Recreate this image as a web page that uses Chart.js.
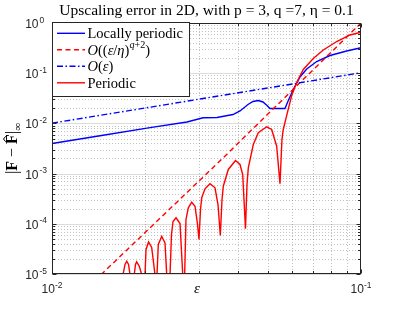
<!DOCTYPE html>
<html>
<head>
<meta charset="utf-8">
<script src="https://cdn.jsdelivr.net/npm/chart.js@4.4.1/dist/chart.umd.min.js"></script>
<style>
html, body { margin: 0; padding: 0; background: #fff; }
#wrap { width: 399px; height: 310px; }
</style>
</head>
<body>
<div id="wrap"><canvas id="myChart" width="399" height="310"></canvas></div>
<script>
// values (log-log)
var epsLocal = [0.01, 0.0143, 0.02076, 0.02734, 0.03082, 0.0342, 0.03852, 0.04059, 0.04308, 0.04472,
    0.04652, 0.04818, 0.04964, 0.05076, 0.05675, 0.05817, 0.06038, 0.06207, 0.06347, 0.06672,
    0.07188, 0.07937, 0.08989, 0.1];
var errLocal = [0.00398, 0.00569, 0.00825, 0.01066, 0.01293, 0.0131, 0.01504, 0.01766, 0.02379, 0.02731,
    0.02859, 0.02669, 0.02273, 0.0198, 0.0198, 0.02859, 0.04734, 0.06528, 0.084, 0.1213,
    0.171, 0.2252, 0.2768, 0.3206];

var epsPeriodic = [0.01635, 0.01698, 0.01723, 0.01745, 0.01769, 0.01788, 0.01808, 0.01846, 0.01863, 0.01879,
    0.01916, 0.01951, 0.0197, 0.02, 0.02015, 0.02053, 0.02102, 0.02154, 0.02171, 0.02187,
    0.02208, 0.02265, 0.02321, 0.02351, 0.02374, 0.0241, 0.02436, 0.02464, 0.0252, 0.02596,
    0.02649, 0.02675, 0.02714, 0.02761, 0.02832, 0.02903, 0.02958, 0.0299, 0.03024, 0.03052,
    0.03127, 0.03246, 0.03369, 0.03445, 0.03505, 0.0355, 0.03584, 0.0372, 0.03925, 0.04059,
    0.04142, 0.04228, 0.04276, 0.04318, 0.04482, 0.04652, 0.04952, 0.0514, 0.05335, 0.05468,
    0.05549, 0.05603, 0.05749, 0.05966, 0.06193, 0.06506, 0.07008, 0.07551, 0.08344, 0.09214, 0.1];
var errPeriodic = [3e-6, 9.8e-6, 1.55e-5, 1.8e-5, 1.55e-5, 9.8e-6, 3e-6, 9.8e-6, 1.55e-5, 1.75e-5,
    1.43e-5, 9.8e-6, 3e-6, 9.8e-6, 3.08e-5, 4.34e-5, 3.37e-5, 9.8e-6, 3e-6, 9.8e-6,
    3.87e-5, 5.59e-5, 4.18e-5, 9.8e-6, 3e-6, 9.8e-6, 6.12e-5, 1.11e-4, 1.32e-4, 1.01e-4,
    9.8e-6, 3e-6, 1.22e-4, 2.08e-4, 2.69e-4, 2.24e-4, 9.7e-5, 4.87e-5, 1.93e-4, 3.3e-4,
    4.98e-4, 6.26e-4, 5.21e-4, 2.42e-4, 5.85e-5, 3.05e-4, 5.61e-4, 1.21e-3, 1.82e-3, 1.52e-3,
    9.6e-4, 7.95e-5, 6.07e-4, 1.3e-3, 3.8e-3, 6.5e-3, 8.56e-3, 7.56e-3, 3.51e-3, 6.26e-4,
    4.78e-3, 7.56e-3, 0.0144, 0.036, 0.0653, 0.1185, 0.196, 0.29, 0.428, 0.577, 0.656];

// reference slopes
var epsRate = [0.012, 0.035, 0.1];
var errRate = [3.3e-6, 1.8e-3, 1.0];
var epsLinear = [0.01, 0.1];
var errLinear = [0.0101, 0.102];

var xTicks = [0.01, 0.1];
var xTickExp = ['-2', '-1'];
var yTicks = [1e-5, 1e-4, 1e-3, 1e-2, 1e-1, 1];
var yTickExp = ['-5', '-4', '-3', '-2', '-1', '0'];

var legendLabels = ['Locally periodic', 'O((\u03b5/\u03b7)^{q+2})', 'O(\u03b5)', 'Periodic'];
var titleText = 'Upscaling error in 2D, with p = 3, q =7, \u03b7 = 0.1';
var xLabel = '\u03b5';

var SERIF = '"Liberation Serif", "Times New Roman", serif';
var SANS = '"Liberation Sans", Arial, sans-serif';
var axisColor = '#262626';

function pts(xs, ys) {
    return xs.map(function(x, i) { return { x: x, y: ys[i] }; });
}

// 2..9 between each pair of decades
function minorValues(ticks) {
    var out = [];
    for (var i = 0; i < ticks.length - 1; i++) {
        for (var k = 2; k <= 9; k++) out.push(ticks[i] * k);
    }
    return out;
}

function richWidth(ctx, segs) {
    var w = 0;
    segs.forEach(function(s) { ctx.font = s.font; w += ctx.measureText(s.t).width; });
    return w;
}

function drawRich(ctx, segs, x, y, align) {
    var w = richWidth(ctx, segs);
    var cx = align === 'center' ? x - w / 2 : (align === 'right' ? x - w : x);
    ctx.textAlign = 'left';
    ctx.textBaseline = 'alphabetic';
    segs.forEach(function(s) {
        ctx.font = s.font;
        var sw = ctx.measureText(s.t).width;
        ctx.fillText(s.t, cx, y + (s.dy || 0));
        if (s.hat) {
            // circumflex over the glyph
            ctx.beginPath();
            ctx.moveTo(cx + sw * 0.22, y - s.hat + 2.2);
            ctx.lineTo(cx + sw * 0.5, y - s.hat);
            ctx.lineTo(cx + sw * 0.78, y - s.hat + 2.2);
            ctx.lineWidth = 1;
            ctx.strokeStyle = ctx.fillStyle;
            ctx.stroke();
        }
        cx += sw;
    });
}

// tiny tex-ish: letters italic, ^{..} raised
function mathSegs(str, size) {
    var segs = [], sup = false, i = 0;
    while (i < str.length) {
        if (str.substr(i, 2) === '^{') { sup = true; i += 2; continue; }
        if (sup && str[i] === '}') { sup = false; i++; continue; }
        var c = str[i];
        var ital = /[A-Za-z\u03b1-\u03c9]/.test(c);
        var fs = sup ? size * 0.7 : size;
        segs.push({ t: c, font: (ital ? 'italic ' : '') + fs + 'px ' + SERIF, dy: sup ? -size * 0.42 : 0 });
        i++;
    }
    return segs;
}

var decor = {
    id: 'decor',
    beforeDatasetsDraw: function(chart) {
        var ctx = chart.ctx, a = chart.chartArea, xs = chart.scales.x, ys = chart.scales.y;
        ctx.save();
        ctx.lineWidth = 1;
        // minor grid (dotted)
        ctx.strokeStyle = 'rgba(38,38,38,0.28)';
        ctx.setLineDash([1, 2]);
        minorValues(xTicks).forEach(function(v) {
            var px = Math.round(xs.getPixelForValue(v)) + 0.5;
            ctx.beginPath(); ctx.moveTo(px, a.top); ctx.lineTo(px, a.bottom); ctx.stroke();
        });
        minorValues(yTicks).forEach(function(v) {
            var py = Math.round(ys.getPixelForValue(v)) + 0.5;
            ctx.beginPath(); ctx.moveTo(a.left, py); ctx.lineTo(a.right, py); ctx.stroke();
        });
        // major grid
        ctx.setLineDash([]);
        ctx.strokeStyle = 'rgba(38,38,38,0.16)';
        yTicks.forEach(function(v) {
            var py = Math.round(ys.getPixelForValue(v)) + 0.5;
            ctx.beginPath(); ctx.moveTo(a.left, py); ctx.lineTo(a.right, py); ctx.stroke();
        });
        ctx.restore();
    },
    afterDatasetsDraw: function(chart) {
        var ctx = chart.ctx, a = chart.chartArea, xs = chart.scales.x, ys = chart.scales.y;
        var L = Math.round(a.left) + 0.5, R = Math.round(a.right) - 0.5;
        var T = Math.round(a.top) + 0.5, B = Math.round(a.bottom) - 0.5;
        ctx.save();
        ctx.strokeStyle = axisColor;
        ctx.fillStyle = axisColor;
        ctx.lineWidth = 1;
        ctx.setLineDash([]);

        // box
        ctx.strokeRect(L, T, R - L, B - T);

        // ticks, inward on all four sides
        function xTick(v, len) {
            var px = Math.round(xs.getPixelForValue(v)) + 0.5;
            ctx.beginPath();
            ctx.moveTo(px, B); ctx.lineTo(px, B - len);
            ctx.moveTo(px, T); ctx.lineTo(px, T + len);
            ctx.stroke();
        }
        function yTick(v, len) {
            var py = Math.round(ys.getPixelForValue(v)) + 0.5;
            ctx.beginPath();
            ctx.moveTo(L, py); ctx.lineTo(L + len, py);
            ctx.moveTo(R, py); ctx.lineTo(R - len, py);
            ctx.stroke();
        }
        minorValues(xTicks).forEach(function(v) { xTick(v, 2.5); });
        minorValues(yTicks).forEach(function(v) { yTick(v, 2.5); });
        xTicks.forEach(function(v) { xTick(v, 4); });
        yTicks.forEach(function(v) { yTick(v, 4); });

        // tick labels 10^n
        xTicks.forEach(function(v, i) {
            var px = xs.getPixelForValue(v);
            drawRich(ctx, [
                { t: '10', font: '12px ' + SANS },
                { t: xTickExp[i], font: '8.5px ' + SANS, dy: -5.5 }
            ], px, 293, 'center');
        });
        yTicks.forEach(function(v, i) {
            var py = ys.getPixelForValue(v);
            ctx.font = '12px ' + SANS;
            ctx.textAlign = 'right';
            ctx.textBaseline = 'alphabetic';
            ctx.fillText('10', 38.5, py + 5);
            ctx.font = '8.5px ' + SANS;
            ctx.textAlign = 'left';
            ctx.fillText(yTickExp[i], 39.5, py - 0.5);
        });

        // axis labels
        ctx.fillStyle = '#000';
        ctx.font = 'italic 15px ' + SERIF;
        ctx.textAlign = 'center';
        ctx.fillText(xLabel, 197, 293);

        ctx.save();
        ctx.translate(17, (a.top + a.bottom) / 2);
        ctx.rotate(-Math.PI / 2);
        drawRich(ctx, [
            { t: '|', font: '17px ' + SERIF },
            { t: 'F', font: 'bold 16px ' + SERIF },
            { t: ' \u2212 ', font: '16px ' + SERIF },
            { t: 'F', font: 'bold 16px ' + SERIF, hat: 13.5 },
            { t: '|', font: '17px ' + SERIF },
            { t: '\u221e', font: '11px ' + SERIF, dy: 4 }
        ], 0, 0, 'center');
        ctx.restore();

        // title
        ctx.font = '15.5px ' + SERIF;
        ctx.textAlign = 'center';
        ctx.fillText(titleText, 206.5, 15);

        // legend box
        var lx = 52.5, ly = 22.5, lw = 137, lh = 74;
        ctx.fillStyle = '#fff';
        ctx.fillRect(lx, ly, lw, lh);
        ctx.strokeStyle = axisColor;
        ctx.lineWidth = 1;
        ctx.strokeRect(lx, ly, lw, lh);
        chart.data.datasets.forEach(function(ds, i) {
            var cy = 33.3 + i * 16.5;
            ctx.strokeStyle = ds.borderColor;
            ctx.lineWidth = 1.4;
            ctx.setLineDash(ds.borderDash || []);
            ctx.beginPath(); ctx.moveTo(57, cy); ctx.lineTo(85, cy); ctx.stroke();
            ctx.setLineDash([]);
            ctx.fillStyle = '#000';
            var segs = /^O\(/.test(ds.label) ? mathSegs(ds.label, 14.5)
                : [{ t: ds.label, font: '14.5px ' + SERIF }];
            drawRich(ctx, segs, 87.5, cy + 4.7, 'left');
        });
        ctx.restore();
    }
};

var ctx = document.getElementById('myChart').getContext('2d');
new Chart(ctx, {
    type: 'line',
    data: {
        datasets: [
            { label: legendLabels[0], data: pts(epsLocal, errLocal), borderColor: '#0000ff', borderDash: [], order: 4 },
            { label: legendLabels[1], data: pts(epsRate, errRate), borderColor: '#ff0000', borderDash: [5, 3.5], order: 3 },
            { label: legendLabels[2], data: pts(epsLinear, errLinear), borderColor: '#0000ff', borderDash: [6, 2.5, 1.5, 2.5], order: 2 },
            { label: legendLabels[3], data: pts(epsPeriodic, errPeriodic), borderColor: '#ff0000', borderDash: [], order: 1 }
        ]
    },
    options: {
        responsive: false,
        animation: false,
        devicePixelRatio: 1,
        layout: { padding: { left: 52, right: 38, top: 23, bottom: 36 } },
        elements: {
            point: { radius: 0 },
            line: { tension: 0, borderWidth: 1.4, fill: false }
        },
        plugins: {
            legend: { display: false },
            title: { display: false },
            tooltip: { enabled: false }
        },
        scales: {
            x: { type: 'logarithmic', min: 0.01, max: 0.1, display: false },
            y: { type: 'logarithmic', min: 1e-5, max: 1, display: false }
        }
    },
    plugins: [decor]
});
</script>
</body>
</html>
